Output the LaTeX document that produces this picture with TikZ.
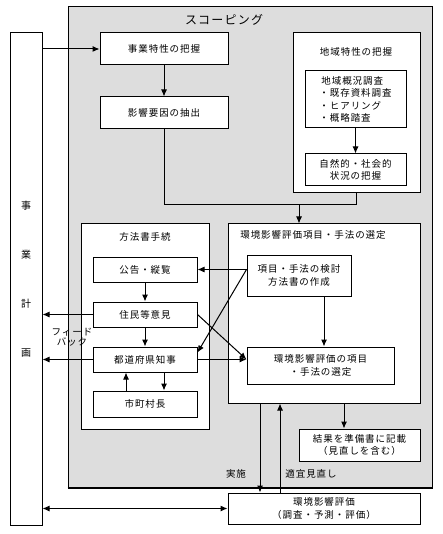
\documentclass[tikz,border=0pt]{standalone}
\usepackage{fontspec}
\setmainfont{Noto Sans CJK JP}
\newfontfamily\jp[LetterSpace=10]{Noto Sans CJK JP}
\usetikzlibrary{arrows.meta}
\definecolor{scopegray}{RGB}{221,221,221}
\begin{document}
\begin{tikzpicture}[x=1pt,y=-1pt,
  box/.style={draw, fill=white, line width=1pt, inner sep=0pt, align=center,
    font=\jp\fontsize{9.5}{12.3}\selectfont},
  lbl/.style={inner sep=0pt, align=center, font=\jp\fontsize{9.5}{10}\selectfont},
  arr/.style={line width=1pt, -{Latex[length=7pt,width=6pt]}},
  dbl/.style={line width=1pt, {Latex[length=7pt,width=6pt]}-{Latex[length=7pt,width=6pt]}},
  ln/.style={line width=1pt}]
\useasboundingbox (0,0) rectangle (442,534);
% scoping area
\node[draw, fill=scopegray, line width=1pt, minimum width=364pt, minimum height=480pt, inner sep=0pt] (scopebox) at (250,247) {};
\draw[line width=2pt] (scopebox.south west) -- (scopebox.south east);
\node[lbl, font=\jp\fontsize{12}{14}\selectfont] (scopetitle) at (224,20) {スコーピング};
% business plan
\node[box, minimum width=32pt, minimum height=492pt, font=\jp\fontsize{10}{49}\selectfont] (plan) at (26,279) {事\\業\\計\\画};
% left column
\node[box, minimum width=128pt, minimum height=32pt] (jigyo) at (164,49) {事業特性の把握};
\node[box, minimum width=128pt, minimum height=32pt] (eikyo) at (164,113) {影響要因の抽出};
% regional
\node[box, minimum width=127pt, minimum height=160pt] (chiiki) at (356.5,113) {};
\node[lbl] (chiikititle) at (356,52) {地域特性の把握};
\node[box, minimum width=101pt, minimum height=57pt, align=left] (gaikyo) at (355.5,99.5) {\hspace*{2pt}地域概況調査\\・既存資料調査\\・ヒアリング\\・概略踏査};
\node[box, minimum width=101pt, minimum height=32pt] (shizen) at (355.5,170) {自然的・社会的\\状況の把握};
% method procedure
\node[box, minimum width=128pt, minimum height=205pt] (houhou) at (145,326.5) {};
\node[lbl] (houhoutitle) at (145,237) {方法書手続};
\node[box, minimum width=104pt, minimum height=25pt] (koukoku) at (145,269.5) {公告・縦覧};
\node[box, minimum width=104pt, minimum height=25pt] (jumin) at (145,314.5) {住民等意見};
\node[box, minimum width=104pt, minimum height=25pt] (todofuken) at (145,359.5) {都道府県知事};
\node[box, minimum width=104pt, minimum height=26pt] (shichoson) at (145,404) {市町村長};
% selection
\node[box, minimum width=192pt, minimum height=179pt] (sentei) at (324,313.5) {};
\node[lbl] (senteititle) at (313,235) {環境影響評価項目・手法の選定};
\node[box, minimum width=104pt, minimum height=41pt] (kento) at (299,275.5) {項目・手法の検討\\方法書の作成};
\node[box, minimum width=147pt, minimum height=37pt] (senteiitem) at (320.5,365.5) {環境影響評価の項目\\・手法の選定};
\node[box, minimum width=121pt, minimum height=32pt] (kekka) at (359.5,445) {結果を準備書に記載\\（見直しを含む）};
\node[box, minimum width=192pt, minimum height=31pt] (hyoka) at (324,508.5) {環境影響評価\\（調査・予測・評価）};
% labels
\node[lbl] (feedback) at (72,337.5) {フィード\\バック};
\node[lbl] (jisshi) at (236,474) {実施};
\node[lbl] (minaoshi) at (311,474) {適宜見直し};
% connectors
\draw[arr] (plan.east |- jigyo.west) -- (jigyo.west);
\draw[arr] (jigyo.south) -- (eikyo.north);
\coordinate (junc) at (299,205);
\draw[ln] (eikyo.south) |- (chiiki.south |- junc) -- (chiiki.south);
\draw[arr] (junc) -- (junc |- sentei.north);
\draw[arr] (gaikyo.south) -- (shizen.north);
\draw[arr] (koukoku.south) -- (jumin.north);
\draw[arr] (jumin.south) -- (todofuken.north);
\draw[arr] ([xshift=-19pt]shichoson.north) -- ([xshift=-19pt]todofuken.south);
\draw[arr] ([xshift=19pt]todofuken.south) -- ([xshift=19pt]shichoson.north);
\draw[arr] (jumin.west) -- (jumin.west -| plan.east);
\draw[arr] (todofuken.west) -- (todofuken.west -| plan.east);
\coordinate (kentoL) at (kento.west |- koukoku.east);
\draw[arr] (kentoL) -- (koukoku.east);
\draw[arr] (kentoL) -- ([yshift=-6pt]todofuken.north east);
\coordinate (itemL) at (todofuken.east -| senteiitem.west);
\draw[arr] (jumin.east) -- (itemL);
\draw[arr] (todofuken.east) -- (itemL);
\draw[arr] ([xshift=25pt]kento.south) -- ([xshift=25pt]kento.south |- senteiitem.north);
\draw[arr] ([xshift=20pt]sentei.south) -- ([xshift=20pt]sentei.south |- kekka.north);
\draw[arr] ([xshift=-64pt]sentei.south) -- ([xshift=-64pt]sentei.south |- hyoka.north);
\draw[arr] ([xshift=-44pt]hyoka.north) -- ([xshift=-44pt]hyoka.north |- sentei.south);
\draw[dbl] (hyoka.west -| plan.east) -- (hyoka.west);
\end{tikzpicture}
\end{document}
